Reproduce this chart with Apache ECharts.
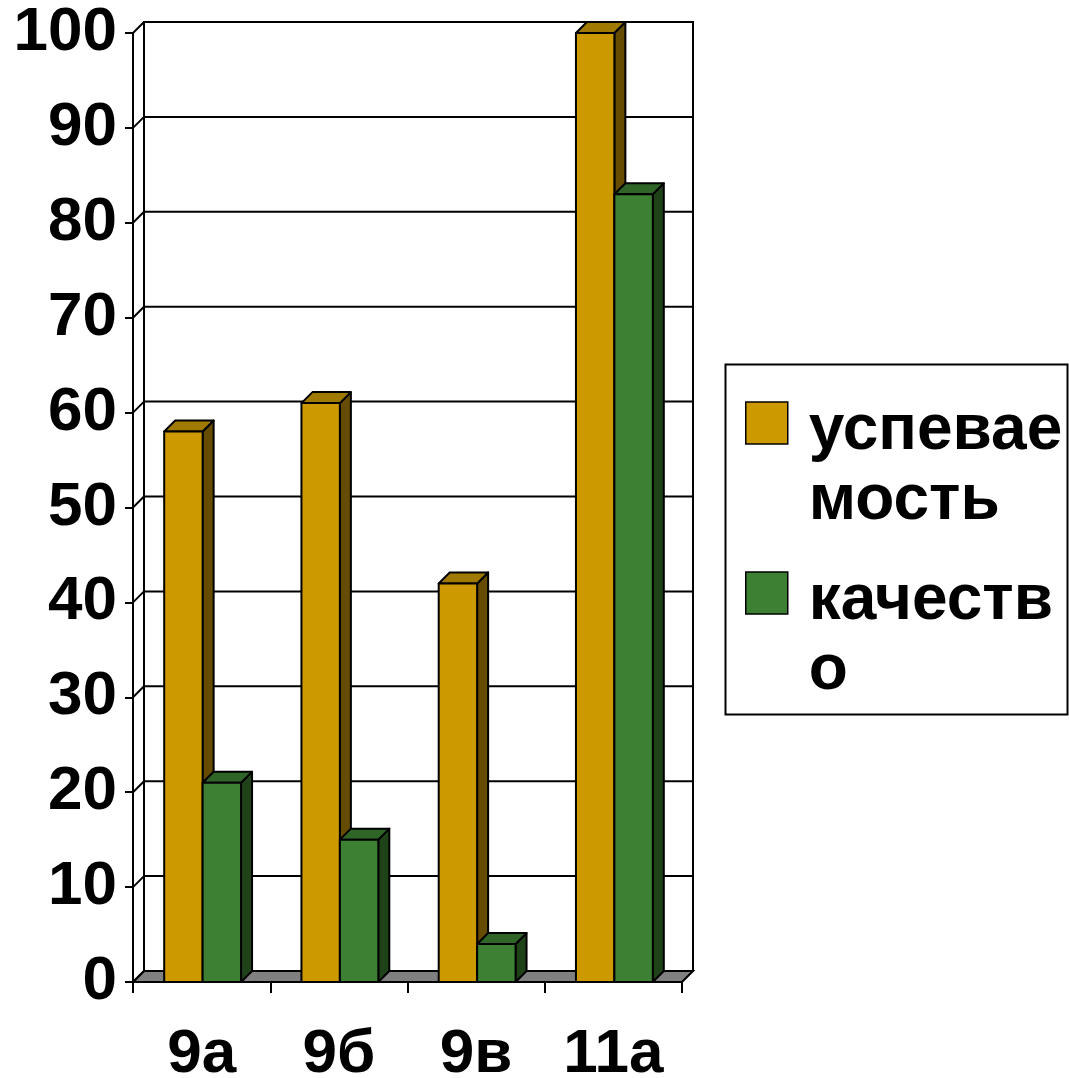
<!DOCTYPE html>
<html>
<head>
<meta charset="utf-8">
<script src="https://cdn.jsdelivr.net/npm/echarts@6/dist/echarts.min.js"></script>
<style>
html,body{margin:0;padding:0;background:#fff;}
#chart{width:1069px;height:1078px;}
</style>
</head>
<body>
<div id="chart"></div>
<script>
const categories = ['9а', '9б', '9в', '11а'];
const uspevaemost = [58, 61, 42, 100];
const kachestvo = [21, 15, 4, 83];
const yTicks = [0, 10, 20, 30, 40, 50, 60, 70, 80, 90, 100];
const seriesNames = ['успеваемость', 'качество'];
const legendLabels = {'успеваемость': '{s| }\nуспевае\nмость', 'качество': '{s| }\nкачеств\nо'};

const FONT = '"Liberation Sans", Arial, sans-serif';
const D = 11; // depth offset
const palette = [
  {front: '#CC9900', top: '#A07A00', side: '#664C00'},
  {front: '#3D8033', top: '#2F6628', side: '#1F4219'}
];

const chart = echarts.init(document.getElementById('chart'), null, {renderer: 'canvas'});

function wallRender(params, api) {
  const cs = params.coordSys;
  const x0 = cs.x, x1 = cs.x + cs.width;
  const yB = api.coord([0, 0])[1];
  const yT = api.coord([0, 100])[1];
  const line = {stroke: '#000', lineWidth: 2};
  const children = [];
  children.push({type: 'rect', shape: {x: x0 + D, y: yT - D, width: cs.width, height: yB - yT}, style: {fill: '#fff', stroke: '#000', lineWidth: 2}});
  children.push({type: 'polygon', shape: {points: [[x0, yB], [x1, yB], [x1 + D, yB - D], [x0 + D, yB - D]]}, style: {fill: '#808080', stroke: '#000', lineWidth: 2}});
  yTicks.forEach(function (v) {
    const y = api.coord([0, v])[1];
    if (v > 0) {
      children.push({type: 'line', shape: {x1: x0 + D, y1: y - D, x2: x1 + D, y2: y - D}, style: line});
    }
    children.push({type: 'line', shape: {x1: x0, y1: y, x2: x0 + D, y2: y - D}, style: line});
  });
  return {type: 'group', children: children};
}

function barRender(sIdx) {
  return function (params, api) {
    const cat = api.value(0);
    const val = api.value(1);
    const c = api.coord([cat, val]);
    const base = api.coord([cat, 0]);
    const cw = api.size([1, 0])[0];
    const bw = cw * 0.28;
    const x = c[0] - bw + sIdx * bw + 1;
    const yt = c[1], yb = base[1];
    const col = palette[sIdx];
    const st = {stroke: '#000', lineWidth: 2, lineJoin: 'round'};
    return {
      type: 'group',
      children: [
        {type: 'polygon', shape: {points: [[x + bw, yt], [x + bw + D, yt - D], [x + bw + D, yb - D], [x + bw, yb]]}, style: Object.assign({fill: col.side}, st)},
        {type: 'polygon', shape: {points: [[x, yt], [x + bw, yt], [x + bw + D, yt - D], [x + D, yt - D]]}, style: Object.assign({fill: col.top}, st)},
        {type: 'rect', shape: {x: x, y: yt, width: bw, height: yb - yt}, style: Object.assign({fill: col.front}, st)}
      ]
    };
  };
}

const option = {
  animation: false,
  backgroundColor: '#fff',
  grid: {left: 133, top: 33, width: 549, height: 949, containLabel: false, outerBoundsMode: 'none'},
  xAxis: {
    type: 'category',
    data: categories,
    boundaryGap: true,
    axisLine: {show: true, lineStyle: {color: '#000', width: 2}},
    axisTick: {show: true, alignWithLabel: false, length: 11, lineStyle: {color: '#000', width: 2}},
    axisLabel: {color: '#000', fontFamily: FONT, fontWeight: 'bold', fontSize: 62, margin: 42},
    splitLine: {show: false}
  },
  yAxis: {
    type: 'value',
    min: 0, max: 100, interval: 10,
    axisLine: {show: true, lineStyle: {color: '#000', width: 2}},
    axisTick: {show: true, inside: false, length: 8, lineStyle: {color: '#000', width: 2}},
    axisLabel: {color: '#000', fontFamily: FONT, fontWeight: 'bold', fontSize: 62, margin: 16},
    splitLine: {show: false}
  },
  legend: {
    orient: 'vertical',
    left: 745,
    top: 310,
    padding: 0,
    itemGap: -56,
    itemWidth: 42,
    itemHeight: 42,
    icon: 'rect',
    itemStyle: {borderColor: '#000', borderWidth: 1.5},
    data: seriesNames,
    formatter: function (name) { return legendLabels[name]; },
    textStyle: {
      color: '#000', fontFamily: FONT, fontWeight: 'bold', fontSize: 64, lineHeight: 70, padding: [0, 0, 0, 16],
      rich: {s: {fontSize: 10, lineHeight: 86}}
    }
  },
  graphic: [
    {type: 'rect', left: 723, top: 362, shape: {width: 342, height: 350}, style: {fill: 'none', stroke: '#000', lineWidth: 2}, z: 0, silent: true}
  ],
  series: [
    {
      type: 'custom', name: 'walls', renderItem: wallRender, data: [[0, 0]], z: 1, silent: true,
      encode: {x: 0, y: 1}, clip: false
    },
    {
      type: 'custom', name: seriesNames[0], renderItem: barRender(0), z: 2,
      itemStyle: {color: palette[0].front},
      data: categories.map(function (c, i) { return [i, uspevaemost[i]]; }),
      encode: {x: 0, y: 1}, clip: false
    },
    {
      type: 'custom', name: seriesNames[1], renderItem: barRender(1), z: 3,
      itemStyle: {color: palette[1].front},
      data: categories.map(function (c, i) { return [i, kachestvo[i]]; }),
      encode: {x: 0, y: 1}, clip: false
    }
  ]
};
chart.setOption(option);
</script>
</body>
</html>
